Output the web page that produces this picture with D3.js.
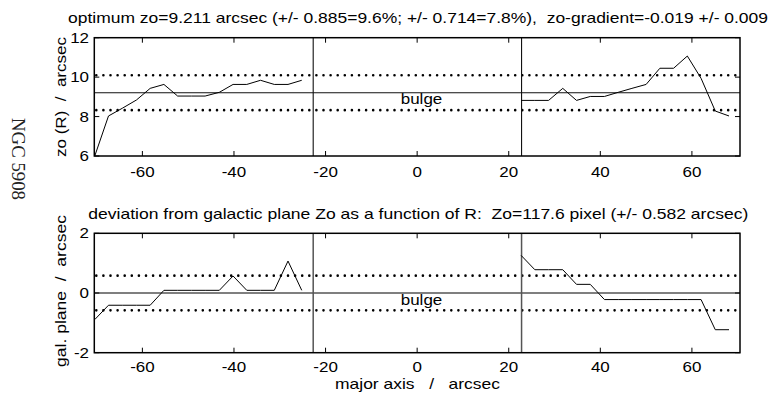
<!DOCTYPE html>
<html><head><meta charset="utf-8">
<script src="https://cdn.jsdelivr.net/npm/d3@7/dist/d3.min.js"></script>
<style>body{margin:0;background:#fff}svg text{white-space:pre}</style>
</head><body><svg id="c" width="773" height="398"></svg>
<script>
// ---- data ----
const rLeft  = [-70.4,-67.4,-64.4,-61.3,-58.3,-55.3,-52.3,-49.3,-46.3,-43.2,-40.2,-37.2,-34.2,-31.2,-28.2,-25.2];
const rRight = [22.7,25.7,28.7,31.8,34.8,37.8,40.9,43.9,46.9,50.0,53.0,56.0,59.0,62.0,65.1,68.1];
const zoLeft  = [6.0,8.03,8.42,8.84,9.43,9.63,9.04,9.04,9.04,9.23,9.63,9.63,9.84,9.63,9.63,9.84];
const zoRight = [8.82,8.82,8.82,9.43,8.82,9.02,9.02,9.23,9.43,9.63,10.45,10.45,11.07,9.94,8.28,8.03];
const devLeft  = [-0.89,-0.41,-0.41,-0.41,-0.41,0.09,0.09,0.09,0.09,0.09,0.57,0.09,0.09,0.09,1.07,0.09];
const devRight = [1.26,0.78,0.78,0.78,0.29,0.29,-0.22,-0.22,-0.22,-0.22,-0.22,-0.22,-0.22,-0.22,-1.23,-1.23];
const zoOpt = 9.211, zoErr = 0.885, devErr = 0.582;
const bulgeEdges = [-22.7, 22.8];
const xTicks = [-60,-40,-20,0,20,40,60];
const yTicksTop = [6,8,10,12];
const yTicksBot = [-2,0,2];
const title1 = "optimum zo=9.211 arcsec (+/- 0.885=9.6%; +/- 0.714=7.8%),  zo-gradient=-0.019 +/- 0.009";
const title2 = "deviation from galactic plane Zo as a function of R:  Zo=117.6 pixel (+/- 0.582 arcsec)";
const yLabTop = "zo (R)  /  arcsec";
const yLabBot = "gal. plane  /  arcsec";
const xLab = "major axis   /   arcsec";
const sideLab = "NGC 5908";

const svg = d3.select("#c");
const L = 94.3, R = 740;
const x = d3.scaleLinear().domain([-70.5,70.5]).range([L,R]);
const FS = 14.5, SX = 1.17;
const SANS = "'Liberation Sans',Arial,sans-serif";

function txt(g, s, px, py, anchor, opts={}) {
  const t = g.append("text").attr("transform", `translate(${px},${py})` + (opts.rot?` rotate(${opts.rot})`:"") + (opts.len?"":` scale(${SX},1)`))
    .attr("text-anchor", anchor).attr("font-size", opts.fs||FS).attr("fill","#000")
    .attr("font-family", SANS).text(s);
  if (opts.len) t.attr("textLength", opts.len).attr("lengthAdjust","spacingAndGlyphs");
  return t;
}

function panel(top, bottom, ydom, yticks, center, err, dataSets, yl, ylCenter, ylLen, tickLabY, refColor, refW) {
  const y = d3.scaleLinear().domain(ydom).range([bottom, top]);
  const g = svg.append("g");
  const clipId = "clip" + Math.round(top);
  svg.append("clipPath").attr("id", clipId).append("rect").attr("x",L).attr("y",top).attr("width",R-L).attr("height",bottom-top);
  const inner = g.append("g").attr("clip-path", `url(#${clipId})`);
  inner.append("line").attr("x1",L).attr("x2",R).attr("y1",y(center)).attr("y2",y(center)).attr("stroke",refColor).attr("stroke-width",refW);
  [center-err, center+err].forEach(v => {
    inner.append("line").attr("x1",L+2).attr("x2",R).attr("y1",y(v)).attr("y2",y(v))
      .attr("stroke","#000").attr("stroke-width",2.6).attr("stroke-linecap","round").attr("stroke-dasharray","0 7.1");
  });
  bulgeEdges.forEach(v => inner.append("line").attr("x1",x(v)).attr("x2",x(v)).attr("y1",top).attr("y2",bottom).attr("stroke",refColor).attr("stroke-width",refW));
  const line = d3.line().x(d=>x(d[0])).y(d=>y(d[1]));
  dataSets.forEach(([rs, vs]) => {
    inner.append("path").attr("d", line(rs.map((r,i)=>[r,vs[i]]))).attr("fill","none").attr("stroke","#000").attr("stroke-width",1);
  });
  g.append("rect").attr("x",L).attr("y",top).attr("width",R-L).attr("height",bottom-top).attr("fill","none").attr("stroke","#000").attr("stroke-width",1.5);
  xTicks.forEach(t => {
    g.append("line").attr("x1",x(t)).attr("x2",x(t)).attr("y1",top).attr("y2",top+5).attr("stroke","#000").attr("stroke-width",1);
    g.append("line").attr("x1",x(t)).attr("x2",x(t)).attr("y1",bottom).attr("y2",bottom-5).attr("stroke","#000").attr("stroke-width",1);
    txt(g, String(t), x(t), tickLabY, "middle");
  });
  yticks.forEach(t => {
    g.append("line").attr("x1",L).attr("x2",L+5).attr("y1",y(t)).attr("y2",y(t)).attr("stroke","#000").attr("stroke-width",1);
    g.append("line").attr("x1",R).attr("x2",R-5).attr("y1",y(t)).attr("y2",y(t)).attr("stroke","#000").attr("stroke-width",1);
    txt(g, String(t), 89, y(t)+5, "end");
  });
  txt(g, "bulge", 421.5, y(center)+11.5, "middle");
  txt(g, yl, 66, ylCenter, "middle", {rot:-90, len:ylLen});
  return {x,y};
}

txt(svg, title1, 68, 23, "start", {len:700});
panel(37.7, 156, [6,12], yTicksTop, zoOpt, zoErr, [[rLeft,zoLeft],[rRight,zoRight]], yLabTop, 97, 120, 177, "#111", 1.1);
txt(svg, title2, 88.3, 219, "start", {len:660});
panel(233.3, 352.7, [-2,2], yTicksBot, 0, devErr, [[rLeft,devLeft],[rRight,devRight]], yLabBot, 291, 152, 372, "#555", 1.5);
txt(svg, xLab, 417.5, 389, "middle", {len:165});
svg.append("text").attr("transform","translate(12,159) rotate(90)").attr("text-anchor","middle")
  .attr("font-size",19).attr("fill","#222").attr("font-family","'Liberation Serif','Times New Roman',serif")
  .attr("textLength",82).attr("lengthAdjust","spacingAndGlyphs").text(sideLab);
</script></body></html>
